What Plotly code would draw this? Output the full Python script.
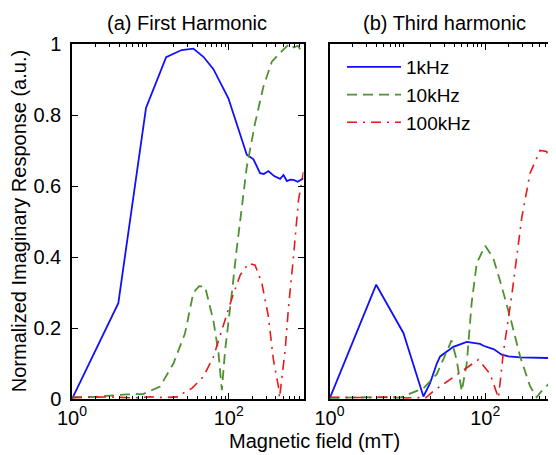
import plotly.graph_objects as go
import math

# ---------------- data ----------------
# (a) First harmonic
a_x_1k = [1, 3.9, 8.8, 15.9, 25, 35.4, 47.5, 63.8, 99, 170, 207, 251, 280, 321, 380, 453, 500, 552, 610, 670, 760, 900]
a_y_1k = [0.0, 0.27, 0.82, 0.963, 0.983, 0.987, 0.964, 0.929, 0.847, 0.688, 0.675, 0.636, 0.634, 0.642, 0.628, 0.62, 0.631, 0.614, 0.618, 0.617, 0.612, 0.622]

a_x_10k = [1, 2, 5, 8.1, 13.3, 19.7, 27.7, 35.4, 42, 50, 63.8, 74, 81.7, 90, 109.6, 126, 170, 217, 277, 355, 453, 500, 590, 680, 760, 900]
a_y_10k = [0.005, 0.006, 0.013, 0.014, 0.035, 0.10, 0.185, 0.30, 0.318, 0.316, 0.22, 0.13, 0.025, 0.138, 0.298, 0.42, 0.654, 0.777, 0.88, 0.95, 0.975, 0.985, 1.0, 0.99, 0.995, 0.972]

a_x_100k = [1, 3, 6, 10, 15, 22.8, 27.7, 33.8, 47.5, 63.8, 85.6, 110, 140, 179, 217, 265, 321, 372, 431, 445, 525, 580, 670, 777, 900]
a_y_100k = [0.004, 0.006, 0.003, 0.006, 0.004, 0.006, 0.02, 0.03, 0.063, 0.119, 0.208, 0.284, 0.349, 0.382, 0.377, 0.326, 0.232, 0.11, 0.035, 0.003, 0.138, 0.26, 0.40, 0.56, 0.64]

# (b) Third harmonic
b_x_1k = [1, 3.98, 8.9, 16.1, 19.6, 23.9, 26.4, 39, 58, 86, 95, 130, 163, 200, 281, 400, 813]
b_y_1k = [0.0, 0.322, 0.186, 0.007, 0.045, 0.10, 0.12, 0.147, 0.161, 0.155, 0.15, 0.14, 0.125, 0.12, 0.117, 0.116, 0.115]

b_x_10k = [1, 3, 8.1, 11.4, 16.1, 23.9, 30, 37, 43, 50, 58, 67, 78, 100, 127, 163, 219, 281, 377, 459, 520, 617, 813]
b_y_10k = [0.003, 0.005, 0.004, 0.017, 0.03, 0.07, 0.12, 0.165, 0.11, 0.022, 0.10, 0.27, 0.383, 0.432, 0.397, 0.317, 0.214, 0.12, 0.036, 0.005, 0.02, 0.036, 0.064]

b_x_100k = [1, 3, 6, 10, 14, 17, 21.6, 35.4, 52, 82, 116, 148, 171, 219, 295, 377, 507, 617, 813]
b_y_100k = [0.005, 0.004, 0.006, 0.003, 0.004, 0.002, 0.022, 0.055, 0.083, 0.111, 0.07, 0.003, 0.13, 0.29, 0.51, 0.636, 0.70, 0.697, 0.608]

series_names = ["1kHz", "10kHz", "100kHz"]
y_ticks = [0, 0.2, 0.4, 0.6, 0.8, 1]
y_tick_text = ["0", "0.2", "0.4", "0.6", "0.8", "1"]
x_ticks = [1, 100]
x_tick_text = ["10<sup>0</sup>", "10<sup>2</sup>"]
minor_x = [m * 10 ** d for d in range(3) for m in range(2, 10)]

titles = ["(a) First Harmonic", "(b) Third harmonic"]
x_title = "Magnetic field (mT)"
y_title = "Normalized Imaginary Response (a.u.)"

# ---------------- styles ----------------
FONT = "Liberation Sans, Arial, Helvetica, sans-serif"
BLUE = "#1010ff"
GREEN = "#4f9030"
RED = "#e41a1c"
styles = [dict(color=BLUE, width=1.8, dash="solid"),
          dict(color=GREEN, width=1.8, dash="10px,6px"),
          dict(color=RED, width=1.6, dash="10px,6px,2px,6px")]

fig = go.Figure()
left = [(a_x_1k, a_y_1k), (a_x_10k, a_y_10k), (a_x_100k, a_y_100k)]
right = [(b_x_1k, b_y_1k), (b_x_10k, b_y_10k), (b_x_100k, b_y_100k)]
for i, (xs, ys) in enumerate(left):
    fig.add_trace(go.Scatter(x=xs, y=ys, mode="lines", line=styles[i],
                             name=series_names[i], showlegend=False,
                             xaxis="x", yaxis="y"))
for i, (xs, ys) in enumerate(right):
    fig.add_trace(go.Scatter(x=xs, y=ys, mode="lines", line=styles[i],
                             name=series_names[i], showlegend=True,
                             xaxis="x2", yaxis="y2"))

# page body has an 8px default margin: the figure is drawn 8px right/down
OFF = 8
W, H = 556 - OFF, 455 - OFF
ml, mr, mt, mb = 72 - OFF, 0, 44 - OFF, 455 - 399.5
pw = W - ml - mr
ph = H - mt - mb

def px_x(p):  # p: x position in the reference picture
    return (p - OFF - ml) / pw

def px_y(p):
    return (H - mb - (p - OFF)) / ph

common_x = dict(type="log", showline=True, linecolor="black", linewidth=1.5,
                mirror="ticks", ticks="inside", ticklen=6, tickcolor="black",
                tickvals=x_ticks, ticktext=x_tick_text, showgrid=False,
                zeroline=False, automargin=False,
                tickfont=dict(size=20, color="black", family=FONT),
                minor=dict(ticks="inside", ticklen=3, tickcolor="black", tickvals=minor_x))

fig.update_layout(
    template="none",
    width=W, height=H,
    margin=dict(l=ml, r=mr, t=mt, b=mb, autoexpand=False),
    plot_bgcolor="white", paper_bgcolor="white",
    font=dict(family=FONT, size=20, color="black"),
    xaxis=dict(domain=[0, px_x(303.5)], range=[0, math.log10(900)], anchor="y", **common_x),
    xaxis2=dict(domain=[px_x(329.5), 1], range=[0, 2.91], anchor="y2", **common_x),
    yaxis=dict(domain=[0, 1], range=[0, 1], showline=True, linecolor="black", linewidth=1.5,
               mirror="ticks", ticks="inside", ticklen=6, tickcolor="black",
               tickvals=y_ticks, ticktext=y_tick_text, showgrid=False, zeroline=False,
               automargin=False, ticklabelstandoff=5,
               tickfont=dict(size=20, color="black", family=FONT), anchor="x"),
    yaxis2=dict(domain=[0, 1], range=[0, 1], showline=True, linecolor="black", linewidth=1.5,
                mirror=False, ticks="", showticklabels=False, showgrid=False,
                zeroline=False, automargin=False, anchor="x2"),
    legend=dict(x=px_x(342), y=px_y(48), xanchor="left", yanchor="top",
                bgcolor="rgba(0,0,0,0)", borderwidth=0,
                font=dict(size=19, family=FONT, color="black"),
                itemwidth=54, tracegroupgap=0),
    annotations=[
        dict(text=titles[0], x=px_x(187), y=px_y(23), xref="paper", yref="paper",
             showarrow=False, xanchor="center", yanchor="middle", font=dict(size=20)),
        dict(text=titles[1], x=px_x(444.5), y=px_y(23), xref="paper", yref="paper",
             showarrow=False, xanchor="center", yanchor="middle", font=dict(size=20)),
        dict(text=x_title, x=px_x(314.5), y=px_y(442), xref="paper", yref="paper",
             showarrow=False, xanchor="center", yanchor="middle", font=dict(size=20)),
        dict(text=y_title, x=px_x(18.5), y=px_y(222), xref="paper", yref="paper",
             showarrow=False, xanchor="center", yanchor="middle", textangle=-90,
             font=dict(size=20)),
    ],
)

fig.write_html("out.html")
